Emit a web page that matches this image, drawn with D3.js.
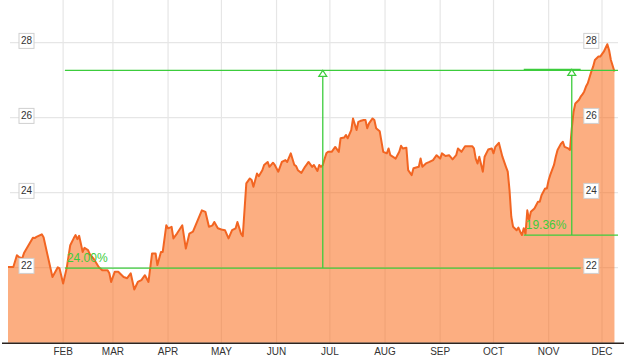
<!DOCTYPE html>
<html><head><meta charset="utf-8">
<script src="https://cdn.jsdelivr.net/npm/d3@7"></script>
<style>html,body{margin:0;padding:0;background:#fff;} svg{display:block;font-family:Arial,"Liberation Sans",sans-serif;}</style>
</head><body>
<svg id="c" width="626" height="361"></svg>
<script>
const year = 2018;
const dates = ["01-01","01-04","01-06","01-07","01-09","01-10","01-15","01-16","01-17","01-20","01-21","01-26","01-29","01-30",
"02-01","02-03","02-05","02-07","02-08","02-09","02-10","02-12","02-13","02-15","02-16","02-18","02-21","02-23","02-26","02-27","02-28",
"03-02","03-04","03-07","03-09","03-11","03-13","03-15","03-17","03-19","03-21","03-23","03-25","03-26","03-28","03-29","03-31",
"04-01","04-03","04-04","04-06","04-09","04-11","04-13","04-15","04-20","04-22","04-24","04-26","04-27","04-29",
"05-01","05-03","05-05","05-07","05-09","05-10","05-12","05-13","05-15","05-17","05-18","05-19","05-21","05-22","05-24","05-25","05-27","05-28","05-30","05-31",
"06-02","06-04","06-06","06-07","06-09","06-11","06-12","06-13","06-15","06-17","06-19","06-21","06-22","06-24","06-25","06-26","06-27","06-28","06-29","06-30",
"07-02","07-04","07-06","07-07","07-09","07-10","07-11","07-13","07-14","07-16","07-17","07-18","07-20","07-21","07-22","07-23","07-25","07-26","07-27","07-29","07-31",
"08-02","08-03","08-04","08-07","08-09","08-10","08-11","08-13","08-14","08-16","08-17","08-20","08-21","08-22","08-24","08-26","08-28","08-30",
"09-01","09-02","09-04","09-06","09-08","09-10","09-11","09-13","09-15","09-17","09-19","09-20","09-21","09-22","09-23","09-25","09-26","09-28","09-30",
"10-01","10-02","10-04","10-06","10-08","10-09","10-10","10-11","10-12","10-14","10-15","10-16","10-17","10-18","10-19","10-20","10-21","10-22","10-24","10-26","10-27","10-28","10-30","10-31",
"11-01","11-02","11-04","11-05","11-06","11-08","11-09","11-10","11-12","11-13","11-14","11-15","11-16","11-18","11-19","11-20","11-21","11-22","11-23","11-25","11-26","11-27","11-29","11-30",
"12-02","12-04","12-05","12-06","12-08"];
const prices = [22.02,22.02,22.33,22.29,22.25,22.39,22.80,22.79,22.82,22.89,22.81,21.75,22.01,21.98,
21.58,21.99,22.60,22.79,22.87,22.76,22.85,22.42,22.53,22.47,22.36,22.25,22.02,21.93,21.93,21.85,21.62,
21.89,21.89,21.75,21.72,21.85,21.42,21.62,21.67,21.80,21.62,22.38,22.38,22.07,22.42,22.42,23.13,
23.05,23.09,22.78,22.91,23.13,22.51,22.91,22.96,23.53,23.49,23.09,23.13,23.22,23.05,
23.02,23.00,22.78,23.00,23.05,23.22,22.91,22.84,24.25,24.38,24.34,24.16,24.51,24.44,24.60,24.74,24.82,24.69,24.80,24.74,
24.56,24.82,24.87,24.82,25.05,24.74,24.71,24.60,24.53,24.69,24.82,24.69,24.74,24.58,24.74,24.69,24.74,24.90,25.05,25.09,
25.09,25.22,25.09,25.45,25.47,25.54,25.45,25.67,25.98,25.67,25.89,25.91,25.94,25.94,25.72,25.85,25.98,25.94,25.72,25.64,25.09,
25.05,25.18,25.00,24.91,25.09,25.25,25.18,25.20,24.60,24.47,24.65,24.69,24.91,24.69,24.78,24.82,24.87,25.00,
24.91,25.05,24.98,25.00,24.89,25.00,25.18,25.09,25.24,25.24,25.24,25.18,24.91,24.78,24.96,24.56,24.96,25.15,25.18,
25.05,25.22,25.33,24.96,24.69,24.56,24.07,23.36,23.09,23.00,23.07,22.96,22.87,23.05,22.90,23.53,23.27,23.49,23.58,23.76,23.76,23.93,24.11,24.11,
24.34,24.49,24.74,24.96,25.14,25.31,25.36,25.22,25.18,25.14,25.71,26.16,26.38,26.47,26.56,26.62,26.70,26.83,26.92,27.23,27.36,27.54,27.63,27.63,
27.76,27.96,27.80,27.54,27.23];
const xTickLabels = ["FEB","MAR","APR","MAY","JUN","JUL","AUG","SEP","OCT","NOV","DEC"];
const yTicks = [22, 24, 26, 28];
// measurement overlays
const measureStart = ["02-02", "10-18"];
const measureArrow = ["06-27", "11-14"];
const measureLowEnd = ["11-19", "12-10"];
const measureTopEnd = ["12-10", "11-19"];
const measureLow = [21.99, 22.87];
const measureHigh = [27.26, 27.29];
const measureLabels = ["24.00%", "19.36%"];

const parse = s => d3.timeParse("%Y-%m-%d")(year + "-" + s);
const data = dates.map((d, i) => ({date: parse(d), v: prices[i]}));

const W = 626, H = 361;
const x = d3.scaleTime().domain([parse("01-01"), parse("12-01")]).range([8, 602]);
const y = d3.scaleLinear().domain([20, 28]).range([342.7, 42.7]);
const baseY = y(20);

const svg = d3.select("#c");
const grid = "#e6e6e6";
const green = "#3ccc3c";

// vertical gridlines (month starts)
const monthDates = d3.timeMonths(parse("02-01"), parse("12-02"));
svg.append("g").selectAll("line").data(monthDates).join("line")
  .attr("x1", d => x(d)).attr("x2", d => x(d))
  .attr("y1", 0).attr("y2", baseY)
  .attr("stroke", grid).attr("stroke-width", 1.2);

// horizontal gridlines
svg.append("g").selectAll("line").data(yTicks).join("line")
  .attr("x1", 10).attr("x2", 618)
  .attr("y1", d => y(d)).attr("y2", d => y(d))
  .attr("stroke", grid).attr("stroke-width", 1.2);

// area + line
const area = d3.area().x(d => x(d.date)).y0(baseY).y1(d => y(d.v));
const line = d3.line().x(d => x(d.date)).y(d => y(d.v));
svg.append("path").datum(data).attr("d", area)
  .attr("fill", "rgb(250,110,30)").attr("fill-opacity", 0.56);
svg.append("path").datum(data).attr("d", line)
  .attr("fill", "none").attr("stroke", "#f26522").attr("stroke-width", 2)
  .attr("stroke-linejoin", "round");

// baseline axis
svg.append("line").attr("x1", 2).attr("x2", 624).attr("y1", baseY + 0.5).attr("y2", baseY + 0.5)
  .attr("stroke", "#2b2420").attr("stroke-width", 1.5);

// x tick labels
svg.append("g").selectAll("text").data(monthDates).join("text")
  .attr("x", d => x(d)).attr("y", 354.5)
  .attr("text-anchor", "middle").attr("font-size", 10).attr("fill", "#333")
  .text((d, i) => xTickLabels[i]);

// measurements
const mg = svg.append("g");
measureLabels.forEach((lab, i) => {
  const xs = x(parse(measureStart[i])), xa = x(parse(measureArrow[i]));
  const xl = x(parse(measureLowEnd[i])), xt = x(parse(measureTopEnd[i]));
  const yl = y(measureLow[i]), yh = y(measureHigh[i]);
  mg.append("line").attr("x1", xs).attr("x2", xt).attr("y1", yh).attr("y2", yh)
    .attr("stroke", green).attr("stroke-width", 1.3);
  mg.append("line").attr("x1", xs).attr("x2", xl).attr("y1", yl).attr("y2", yl)
    .attr("stroke", green).attr("stroke-width", 1.3);
  mg.append("line").attr("x1", xa).attr("x2", xa).attr("y1", yl).attr("y2", yh)
    .attr("stroke", green).attr("stroke-width", 1.3);
  mg.append("path").attr("d", `M${xa},${yh}L${xa - 4},${yh + 6}L${xa + 4},${yh + 6}Z`)
    .attr("fill", "#fff").attr("stroke", green).attr("stroke-width", 1.2);
  mg.append("text").attr("x", xs + 2).attr("y", yl - 6)
    .attr("font-size", 12).attr("fill", green).text(lab);
});

// y labels in boxes (both sides)
[26.5, 591.3].forEach(cx => {
  const g = svg.append("g");
  yTicks.forEach(v => {
    const cy = y(v) - 1.8;
    g.append("rect").attr("x", cx - 7.5).attr("y", cy - 7.5).attr("width", 15).attr("height", 15)
      .attr("fill", "#fff").attr("stroke", "#d0d0d0").attr("stroke-width", 1);
    g.append("text").attr("x", cx).attr("y", cy + 3.5)
      .attr("text-anchor", "middle").attr("font-size", 10).attr("fill", "#333").text(v);
  });
});
</script>
</body></html>
